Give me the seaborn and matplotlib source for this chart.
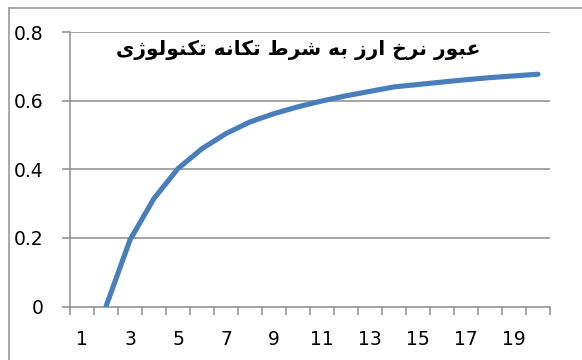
import matplotlib
matplotlib.use("Agg")
import matplotlib.pyplot as plt
from matplotlib.lines import Line2D
from matplotlib.ticker import FixedLocator, FixedFormatter
import seaborn as sns
import pandas as pd

# Periods after the shock and the pass-through response
periods = list(range(2, 21))
response = [0.0, 0.194, 0.315, 0.402, 0.46, 0.504, 0.538, 0.562, 0.582, 0.599,
            0.614, 0.627, 0.64, 0.647, 0.654, 0.661, 0.667, 0.672, 0.677]
x_tick_labels = [str(v) for v in range(1, 20, 2)]
y_ticks = [0, 0.2, 0.4, 0.6, 0.8]
y_tick_labels = ["0", "0.2", "0.4", "0.6", "0.8"]
title_text = "عبور نرخ ارز به شرط تکانه تکنولوژی"

# Contextual forms (isolated, final, initial, medial) for the letters used
FORMS = {
    "ع": ("\uFEC9", "\uFECA", "\uFECB", "\uFECC"),
    "ب": ("\uFE8F", "\uFE90", "\uFE91", "\uFE92"),
    "و": ("\uFEED", "\uFEEE"),
    "ر": ("\uFEAD", "\uFEAE"),
    "ن": ("\uFEE5", "\uFEE6", "\uFEE7", "\uFEE8"),
    "خ": ("\uFEA5", "\uFEA6", "\uFEA7", "\uFEA8"),
    "ا": ("\uFE8D", "\uFE8E"),
    "ز": ("\uFEAF", "\uFEB0"),
    "ه": ("\uFEE9", "\uFEEA", "\uFEEB", "\uFEEC"),
    "ش": ("\uFEB5", "\uFEB6", "\uFEB7", "\uFEB8"),
    "ط": ("\uFEC1", "\uFEC2", "\uFEC3", "\uFEC4"),
    "ت": ("\uFE95", "\uFE96", "\uFE97", "\uFE98"),
    "ک": ("\uFB8E", "\uFB8F", "\uFB90", "\uFB91"),
    "ل": ("\uFEDD", "\uFEDE", "\uFEDF", "\uFEE0"),
    "ژ": ("\uFB8A", "\uFB8B"),
    "ی": ("\uFBFC", "\uFBFD", "\uFBFE", "\uFBFF"),
}


def shape_rtl(text):
    out = []
    for i, ch in enumerate(text):
        if ch not in FORMS:
            out.append(ch)
            continue
        prev = text[i - 1] if i > 0 else None
        nxt = text[i + 1] if i + 1 < len(text) else None
        join_prev = prev in FORMS and len(FORMS[prev]) == 4
        join_next = len(FORMS[ch]) == 4 and nxt in FORMS
        f = FORMS[ch]
        if join_prev and join_next:
            out.append(f[3])
        elif join_prev:
            out.append(f[1])
        elif join_next:
            out.append(f[2])
        else:
            out.append(f[0])
    return "".join(reversed(out))


sns.set_theme(style="white")
plt.rcParams["font.family"] = ["DejaVu Sans"]

df = pd.DataFrame({"period": periods, "response": response})

fig = plt.figure(figsize=(5.82, 3.60), dpi=100)
ax = fig.add_axes([70 / 582, 1 - 306.5 / 360, 480 / 582, 274.5 / 360])

grid_color = "#8c8c8c"
for y in y_ticks[1:]:
    ax.axhline(y, color=grid_color, lw=1.1, zorder=1)

sns.lineplot(data=df, x="period", y="response", ax=ax, color="#4a7ebb",
             lw=3.7, solid_capstyle="round", zorder=3)

ax.set_xlim(0.5, 20.5)
ax.set_ylim(0, 0.8)
ax.set_xlabel("")
ax.set_ylabel("")

# Category boundaries carry tick marks, odd categories carry labels
ax.xaxis.set_major_locator(FixedLocator([k + 0.5 for k in range(0, 21)]))
ax.xaxis.set_major_formatter(FixedFormatter([""] * 21))
ax.xaxis.set_minor_locator(FixedLocator(list(range(1, 20, 2))))
ax.xaxis.set_minor_formatter(FixedFormatter(x_tick_labels))
ax.tick_params(axis="x", which="major", direction="out", length=6,
               width=1.1, color=grid_color, bottom=True)
ax.tick_params(axis="x", which="minor", length=0, pad=17, labelsize=13.5,
               labelcolor="black", bottom=True)

ax.set_yticks(y_ticks)
ax.set_yticklabels(y_tick_labels)
ax.tick_params(axis="y", direction="out", length=6, width=1.1,
               color=grid_color, pad=13, labelsize=13.5, labelcolor="black",
               left=True)

for side in ("top", "right"):
    ax.spines[side].set_visible(False)
for side in ("left", "bottom"):
    ax.spines[side].set_color(grid_color)
    ax.spines[side].set_linewidth(1.1)

ax.text(298 / 582, 1 - 50 / 360, shape_rtl(title_text),
        transform=fig.transFigure, ha="center", va="center", fontsize=14.5,
        fontweight="bold", color="black")

# Outer chart frame (top and left edges)
frame_x = 8.5 / 582
frame_y = 1 - 7.5 / 360
fig.add_artist(Line2D([frame_x, 1.0], [frame_y, frame_y],
                      transform=fig.transFigure, color="#9a9a9a", lw=1.2))
fig.add_artist(Line2D([frame_x, frame_x], [0.0, frame_y],
                      transform=fig.transFigure, color="#9a9a9a", lw=1.2))

fig.savefig("out.png", dpi=100)
